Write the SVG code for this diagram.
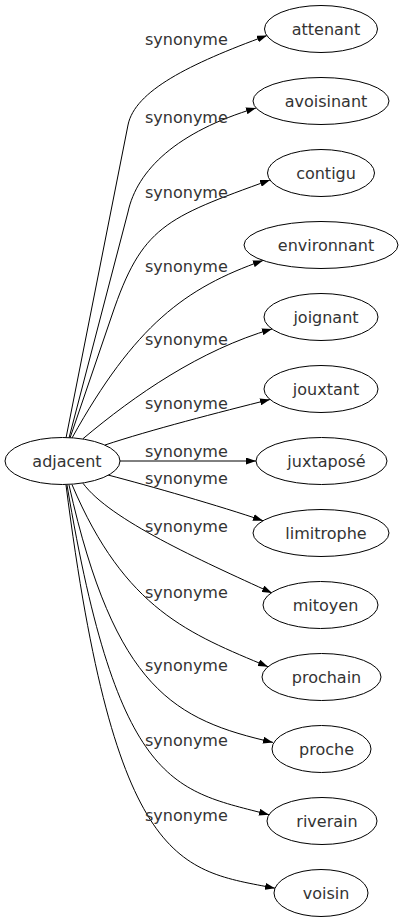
<svg xmlns="http://www.w3.org/2000/svg" width="403" height="923" viewBox="0 0 403 923">
<style>
.n ellipse{fill:#fff;stroke:#000;stroke-width:1}
.n text{font-family:"DejaVu Sans",sans-serif;font-size:16px;fill:#333;text-anchor:middle}
.e path{fill:none;stroke:#000;stroke-width:1;marker-end:url(#ah)}
.e text{font-family:"DejaVu Sans",sans-serif;font-size:16px;fill:#333}
</style>
<defs>
<marker id="ah" markerUnits="userSpaceOnUse" markerWidth="10" markerHeight="7" refX="10" refY="3.5" orient="auto" viewBox="0 0 10 7">
<path d="M0,0 L10,3.5 L0,7 z" fill="#000"/>
</marker>
</defs>
<rect width="403" height="923" fill="#fff"/>
<g id="edges" class="e">
<path d="M66,438 L128,125 C134.8,91 189,64 267,35.5"/>
<path d="M69,438 L128,212 C137,170 177,131.7 256,108"/>
<path d="M70,438 L112,315 C141.9,226.4 165,218 270,180"/>
<path d="M72,438 C135,325 185,288 263,260.5"/>
<path d="M83,438.7 C135,395 200,350 272,329"/>
<path d="M105,445 C150,430 220,412 270,399.5"/>
<path d="M119,461 L256,461"/>
<path d="M108,475 C150,486 220,506 263,520.7"/>
<path d="M83,483.3 C110,520 200,560 272,593"/>
<path d="M72,484.6 C125,610 190,634 268,666.7"/>
<path d="M69,485 C115,690 175,720 273,742.4"/>
<path d="M67,485 C118,790 175,790 269,814.7"/>
<path d="M66,485 C115,870 180,870 275,888.2"/>
<text x="145" y="45">synonyme</text>
<text x="145" y="122.5">synonyme</text>
<text x="145" y="197.5">synonyme</text>
<text x="145" y="271.5">synonyme</text>
<text x="145" y="345">synonyme</text>
<text x="145" y="409">synonyme</text>
<text x="145" y="456.5">synonyme</text>
<text x="145" y="484">synonyme</text>
<text x="145" y="531.5">synonyme</text>
<text x="145" y="597.5">synonyme</text>
<text x="145" y="670.5">synonyme</text>
<text x="145" y="745.5">synonyme</text>
<text x="145" y="820.5">synonyme</text>
</g>
<g id="adjacent" class="n"><ellipse cx="62.5" cy="461" rx="57.5" ry="23.5"/><text x="67" y="466.5">adjacent</text></g>
<g id="attenant" class="n"><ellipse cx="321" cy="29" rx="56.5" ry="23.5"/><text x="326" y="34.5">attenant</text></g>
<g id="avoisinant" class="n"><ellipse cx="321" cy="101" rx="68" ry="23.5"/><text x="326" y="106.5">avoisinant</text></g>
<g id="contigu" class="n"><ellipse cx="321" cy="173" rx="53.5" ry="23.5"/><text x="326" y="178.5">contigu</text></g>
<g id="environnant" class="n"><ellipse cx="321" cy="245" rx="77" ry="23.5"/><text x="326" y="250.5">environnant</text></g>
<g id="joignant" class="n"><ellipse cx="321" cy="317" rx="57" ry="23.5"/><text x="326" y="322.5">joignant</text></g>
<g id="jouxtant" class="n"><ellipse cx="321" cy="389" rx="57" ry="23.5"/><text x="326" y="394.5">jouxtant</text></g>
<g id="juxtapose" class="n"><ellipse cx="321.5" cy="461" rx="65.5" ry="23.5"/><text x="326.5" y="466.5">juxtaposé</text></g>
<g id="limitrophe" class="n"><ellipse cx="321" cy="533" rx="68" ry="23.5"/><text x="326" y="538.5">limitrophe</text></g>
<g id="mitoyen" class="n"><ellipse cx="320.5" cy="605" rx="57.5" ry="23.5"/><text x="325.5" y="610.5">mitoyen</text></g>
<g id="prochain" class="n"><ellipse cx="321.5" cy="677" rx="59.5" ry="23.5"/><text x="326.5" y="682.5">prochain</text></g>
<g id="proche" class="n"><ellipse cx="321.5" cy="749" rx="49.5" ry="23.5"/><text x="326.5" y="754.5">proche</text></g>
<g id="riverain" class="n"><ellipse cx="322" cy="821" rx="55" ry="23.5"/><text x="327" y="826.5">riverain</text></g>
<g id="voisin" class="n"><ellipse cx="321" cy="893" rx="47" ry="23.5"/><text x="326" y="898.5">voisin</text></g>
</svg>
